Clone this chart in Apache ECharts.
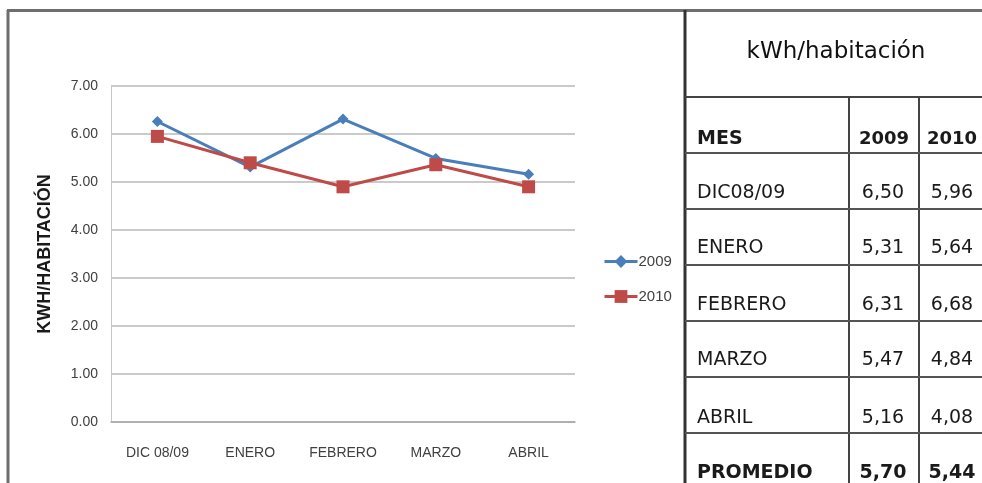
<!DOCTYPE html>
<html>
<head>
<meta charset="utf-8">
<script src="https://cdn.jsdelivr.net/npm/echarts@6/dist/echarts.min.js"></script>
<style>
html,body{margin:0;padding:0;background:#fff;}
#main{width:982px;height:483px;}
</style>
</head>
<body>
<div id="main"></div>
<script>
// Chart data
var categories = ['DIC 08/09', 'ENERO', 'FEBRERO', 'MARZO', 'ABRIL'];
var values2009 = [6.26, 5.31, 6.31, 5.49, 5.16];
var values2010 = [5.95, 5.40, 4.90, 5.36, 4.90];
var seriesNames = ['2009', '2010'];
var yTicks = [0, 1, 2, 3, 4, 5, 6, 7];
var yAxisTitle = 'KWH/HABITACIÓN';

// Table data
var tableTitle = 'kWh/habitación';
var tableHeader = ['MES', '2009', '2010'];
var tableMonths = ['DIC08/09', 'ENERO', 'FEBRERO', 'MARZO', 'ABRIL'];
var table2009 = ['6,50', '5,31', '6,31', '5,47', '5,16'];
var table2010 = ['5,96', '5,64', '6,68', '4,84', '4,08'];
var tableAverage = ['PROMEDIO', '5,70', '5,44'];

var chart = echarts.init(document.getElementById('main'));

var graphics = [];
function hline(x1, x2, y, w, c) {
  graphics.push({type: 'line', shape: {x1: x1, y1: y, x2: x2, y2: y}, style: {stroke: c, lineWidth: w}, silent: true});
}
function vline(x, y1, y2, w, c) {
  graphics.push({type: 'line', shape: {x1: x, y1: y1, x2: x, y2: y2}, style: {stroke: c, lineWidth: w}, silent: true});
}
function txt(s, x, y, opts) {
  graphics.push({type: 'text', x: x, y: y, silent: true, style: Object.assign({
    text: s, fill: '#1a1a1a', font: '19px "DejaVu Sans"', align: 'left', verticalAlign: 'middle'
  }, opts || {})});
}
// frame
hline(7, 982, 10.5, 3, '#6e6e6e');
vline(8, 10, 483, 3, '#6e6e6e');
// table lines
vline(685, 10, 483, 3, '#333333');
hline(685, 982, 97, 2, '#444444');
vline(849, 97, 483, 2, '#444444');
vline(919, 97, 483, 2, '#444444');
var rowLines = [153, 209, 265, 321, 377, 433];
rowLines.forEach(function (y) { hline(685, 982, y, 2, '#555555'); });
// title
txt(tableTitle, 836, 52, {font: '23px "DejaVu Sans"', align: 'center', fill: '#111'});
// header
var rowY = [139, 193, 248, 305, 360, 418, 473];
txt(tableHeader[0], 697, rowY[0], {font: 'bold 19px "DejaVu Sans"'});
txt(tableHeader[1], 884, rowY[0], {font: 'bold 18px "DejaVu Sans"', align: 'center'});
txt(tableHeader[2], 952, rowY[0], {font: 'bold 18px "DejaVu Sans"', align: 'center'});
for (var i = 0; i < tableMonths.length; i++) {
  txt(tableMonths[i], 697, rowY[i + 1]);
  txt(table2009[i], 883, rowY[i + 1], {align: 'center'});
  txt(table2010[i], 952, rowY[i + 1], {align: 'center'});
}
txt(tableAverage[0], 697, rowY[6], {font: 'bold 19px "DejaVu Sans"'});
txt(tableAverage[1], 883, rowY[6], {font: 'bold 19px "DejaVu Sans"', align: 'center'});
txt(tableAverage[2], 952, rowY[6], {font: 'bold 19px "DejaVu Sans"', align: 'center'});

var labelFont = '"Liberation Sans", Arial, sans-serif';

chart.setOption({
  backgroundColor: '#ffffff',
  animation: false,
  grid: {left: 111, right: 407, top: 86, bottom: 61, containLabel: false},
  legend: {
    orient: 'vertical',
    left: 598,
    top: 249,
    itemGap: 20,
    itemWidth: 33,
    itemHeight: 16,
    data: seriesNames,
    lineStyle: {width: 3},
    textStyle: {color: '#404040', fontFamily: labelFont, fontSize: 15, padding: [0, 0, 0, -4]}
  },
  xAxis: {
    type: 'category',
    data: categories,
    boundaryGap: true,
    axisLine: {lineStyle: {color: '#a6a6a6', width: 1.5}},
    axisTick: {show: false},
    axisLabel: {color: '#404040', fontFamily: labelFont, fontSize: 14, margin: 24, interval: 0}
  },
  yAxis: {
    type: 'value',
    min: yTicks[0],
    max: yTicks[yTicks.length - 1],
    interval: 1,
    name: yAxisTitle,
    nameLocation: 'middle',
    nameRotate: 90,
    nameGap: 57,
    nameTextStyle: {color: '#1a1a1a', fontFamily: '"Liberation Sans", Arial, sans-serif', fontWeight: 'bold', fontSize: 18},
    axisLine: {show: true, lineStyle: {color: '#c8c8c8', width: 1}},
    axisTick: {show: false},
    splitLine: {lineStyle: {color: '#b8b8b8', width: 1.5}},
    axisLabel: {color: '#404040', fontFamily: labelFont, fontSize: 14, margin: 13,
      formatter: function (v) { return v.toFixed(2); }}
  },
  series: [
    {
      name: seriesNames[0],
      type: 'line',
      data: values2009,
      symbol: 'diamond',
      symbolSize: 11,
      color: '#4a7ebb',
      lineStyle: {width: 3, color: '#4a7ebb'},
      itemStyle: {color: '#4a7ebb'},
      z: 3
    },
    {
      name: seriesNames[1],
      type: 'line',
      data: values2010,
      symbol: 'rect',
      symbolSize: 13,
      color: '#be4b48',
      lineStyle: {width: 3, color: '#be4b48'},
      itemStyle: {color: '#be4b48'},
      z: 4
    }
  ],
  graphic: graphics
});
</script>
</body>
</html>
